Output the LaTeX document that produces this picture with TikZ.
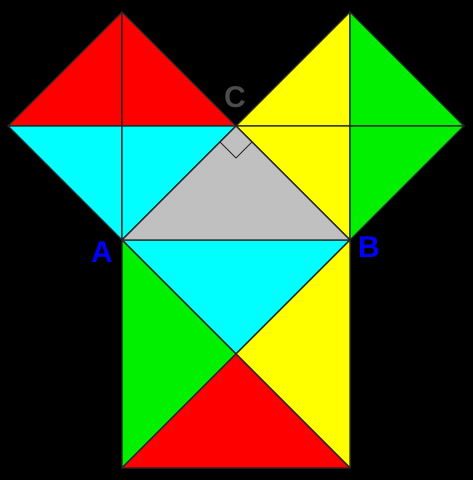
\documentclass[tikz,border=0pt]{standalone}
\usepackage{fontspec}
\setsansfont{Liberation Sans}
\definecolor{pgreen}{RGB}{0,240,0}
\definecolor{pred}{RGB}{255,0,0}
\definecolor{pcyan}{RGB}{0,255,255}
\definecolor{pyellow}{RGB}{255,255,0}
\definecolor{pgray}{RGB}{192,192,192}
\begin{document}
\begin{tikzpicture}[x=1pt, y=-1pt,
    piece/.style={draw=black!85, line width=1.3pt, line join=round},
    vlabel/.style={font=\sffamily\bfseries\fontsize{30}{30}\selectfont, inner sep=0pt}]
    \fill[black] (0,0) rectangle (473,480);
    % vertices of the triangle
    \coordinate (A) at (122,240);
    \coordinate (B) at (350,240);
    \coordinate (C) at (236,126);
    % square on AC
    \coordinate (L) at (8,126);
    \coordinate (T1) at (122,12);
    \coordinate (M1) at (122,126);
    % square on BC
    \coordinate (R) at (464,126);
    \coordinate (T2) at (350,12);
    \coordinate (M2) at (350,126);
    % square on AB
    \coordinate (D) at (122,468);
    \coordinate (E) at (350,468);
    \coordinate (M3) at (236,354);
    \filldraw[piece, fill=pred] (L) -- (T1) -- (M1) -- cycle;
    \filldraw[piece, fill=pred] (T1) -- (C) -- (M1) -- cycle;
    \filldraw[piece, fill=pcyan] (L) -- (M1) -- (A) -- cycle;
    \filldraw[piece, fill=pcyan] (M1) -- (C) -- (A) -- cycle;
    \filldraw[piece, fill=pyellow] (C) -- (T2) -- (M2) -- cycle;
    \filldraw[piece, fill=pyellow] (C) -- (M2) -- (B) -- cycle;
    \filldraw[piece, fill=pgreen] (T2) -- (R) -- (M2) -- cycle;
    \filldraw[piece, fill=pgreen] (M2) -- (R) -- (B) -- cycle;
    \filldraw[piece, fill=pcyan] (A) -- (B) -- (M3) -- cycle;
    \filldraw[piece, fill=pgreen] (A) -- (M3) -- (D) -- cycle;
    \filldraw[piece, fill=pyellow] (B) -- (E) -- (M3) -- cycle;
    \filldraw[piece, fill=pred] (D) -- (M3) -- (E) -- cycle;
    \filldraw[piece, fill=pgray] (A) -- (B) -- (C) -- cycle;
    % right angle at C
    \draw[piece, line width=1pt] ([shift={(-16,16)}]C) -- ([shift={(0,32)}]C) -- ([shift={(16,16)}]C);
    \node[vlabel, text=blue] (labA) at (102,252) {A};
    \node[vlabel, text=blue] (labB) at (369,247) {B};
    \node[vlabel, text=black!70] (labC) at (235,97) {C};
\end{tikzpicture}
\end{document}
